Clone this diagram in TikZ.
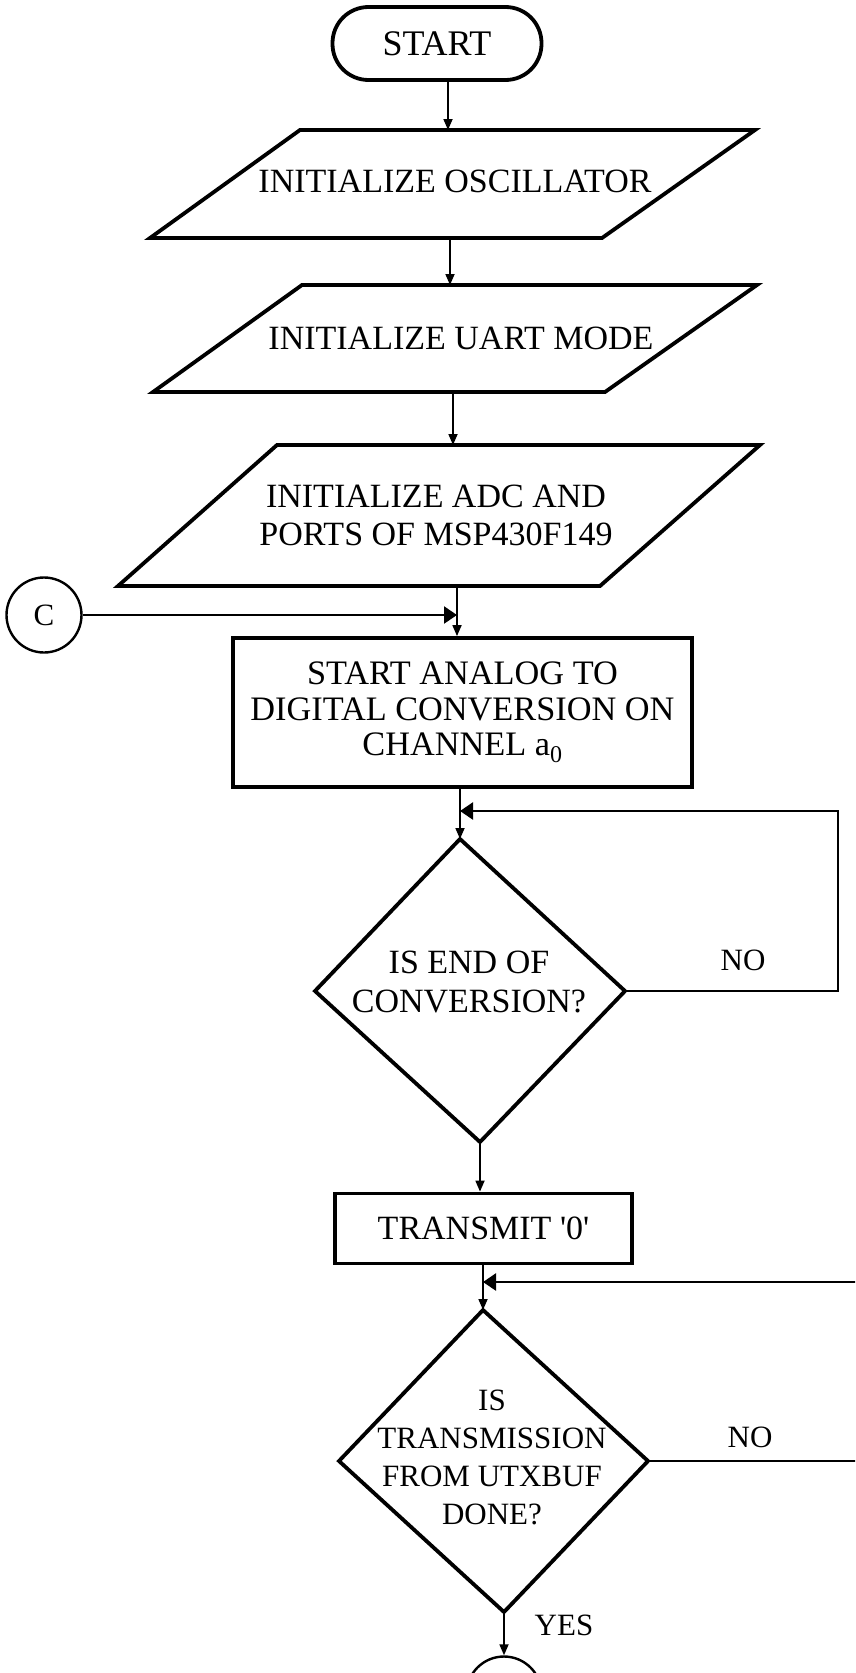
\documentclass[tikz,border=0pt]{standalone}
\usepackage{fontspec}
\setmainfont{Liberation Serif}
\usetikzlibrary{arrows.meta,calc}
\begin{document}
\begin{tikzpicture}[x=1pt,y=-1pt,
  outline/.style={line width=3.8pt, line join=miter},
  conn/.style={line width=1.7pt,-{Triangle[length=11pt,width=9pt]}},
  back/.style={line width=2.4pt,-{Triangle[length=13pt,width=17pt]}},
  boxtext/.style={font=\fontsize{34}{38}\selectfont, align=center, inner sep=0pt},
  dtext/.style={font=\fontsize{31}{38}\selectfont, align=center, inner sep=0pt},
  lbl/.style={font=\fontsize{31}{36}\selectfont, inner sep=0pt},
  procbox/.style={draw, outline, boxtext},
  connector/.style={draw, circle, line width=2.4pt, inner sep=0pt, minimum size=75pt,
    font=\fontsize{31}{36}\selectfont},
]
\useasboundingbox (0,0) rectangle (855,1673);
\fill[white] (0,0) rectangle (855,1673);
\clip (0,0) rectangle (855,1673);

% start terminal
\node[procbox, rounded corners=36pt, minimum width=209pt, minimum height=73pt,
  font=\fontsize{36}{38}\selectfont] (start) at (437,43.5) {START};

% input/output blocks
\coordinate (p1a) at (300,130); \coordinate (p1b) at (755,130);
\coordinate (p1c) at (602,238); \coordinate (p1d) at (150,238);
\draw[outline] (p1a) -- (p1b) -- (p1c) -- (p1d) -- cycle;
\node[boxtext] (p1) at (455,181) {INITIALIZE OSCILLATOR};
\coordinate (p1in) at (448,130); \coordinate (p1out) at (450,238);

\coordinate (p2a) at (302,285); \coordinate (p2b) at (757,285);
\coordinate (p2c) at (605,392); \coordinate (p2d) at (153,392);
\draw[outline] (p2a) -- (p2b) -- (p2c) -- (p2d) -- cycle;
\node[boxtext] (p2) at (461,338) {INITIALIZE UART MODE};
\coordinate (p2in) at (450,285); \coordinate (p2out) at (453,392);

\coordinate (p3a) at (277,445); \coordinate (p3b) at (760,445);
\coordinate (p3c) at (600,586); \coordinate (p3d) at (118,586);
\draw[outline] (p3a) -- (p3b) -- (p3c) -- (p3d) -- cycle;
\node[boxtext] (p3) at (436,515) {INITIALIZE ADC AND\\PORTS OF MSP430F149};
\coordinate (p3in) at (453,445); \coordinate (p3out) at (457,586);

% off-page connector
\node[connector] (cc) at (44,615) {C};

% conversion start
\node[procbox, minimum width=459pt, minimum height=149pt,
  font=\fontsize{34.3}{35.5}\selectfont] (r1) at (462.5,712.5)
  {START ANALOG TO\\DIGITAL CONVERSION ON\\CHANNEL a\textsubscript{0}};

% end-of-conversion decision
\coordinate (d1t) at (460,839);  \coordinate (d1r) at (625,991);
\coordinate (d1b) at (480,1142); \coordinate (d1l) at (315,991);
\draw[outline] (d1t) -- (d1r) -- (d1b) -- (d1l) -- cycle;
\node[dtext, font=\fontsize{34}{39}\selectfont] (d1) at (469,982) {IS END OF\\CONVERSION?};

% transmit
\node[procbox, minimum width=297pt, minimum height=70pt] (r2) at (483.5,1228.5)
  {TRANSMIT \textquotesingle 0\textquotesingle};

% transmission decision
\coordinate (d2t) at (483,1310); \coordinate (d2r) at (648,1461);
\coordinate (d2b) at (504,1612); \coordinate (d2l) at (339,1461);
\draw[outline] (d2t) -- (d2r) -- (d2b) -- (d2l) -- cycle;
\node[dtext] (d2) at (492,1457) {IS\\TRANSMISSION\\FROM UTXBUF\\DONE?};

% next-page connector
\node[connector] (cend) at (504,1694) {};

% flow lines
\draw[conn] (start.south -| p1in) -- (p1in);
\draw[conn] (p1out) -- (p2in);
\draw[conn] (p2out) -- (p3in);
\draw[conn] (p3out) -- (p3out |- r1.north);
\draw[back] (cc.east) -- (cc.east -| p3out);
\draw[conn] (r1.south -| d1t) -- (d1t);
\coordinate (j1) at (460,811); \coordinate (e1) at (838,811);
\draw[back] (d1r) -| (e1) -- (j1);
\draw[conn] (d1b) -- (d1b |- r2.north);
\draw[conn] (r2.south -| d2t) -- (d2t);
\coordinate (j2) at (483,1282); \coordinate (e2) at (880,1282);
\draw[back] (d2r) -| (e2) -- (j2);
\draw[conn] (d2b) -- (cend.north);

% branch labels
\node[lbl] (no1) at (743,960) {NO};
\node[lbl] (no2) at (750,1437) {NO};
\node[lbl] (yes) at (564,1625) {YES};
\end{tikzpicture}
\end{document}
